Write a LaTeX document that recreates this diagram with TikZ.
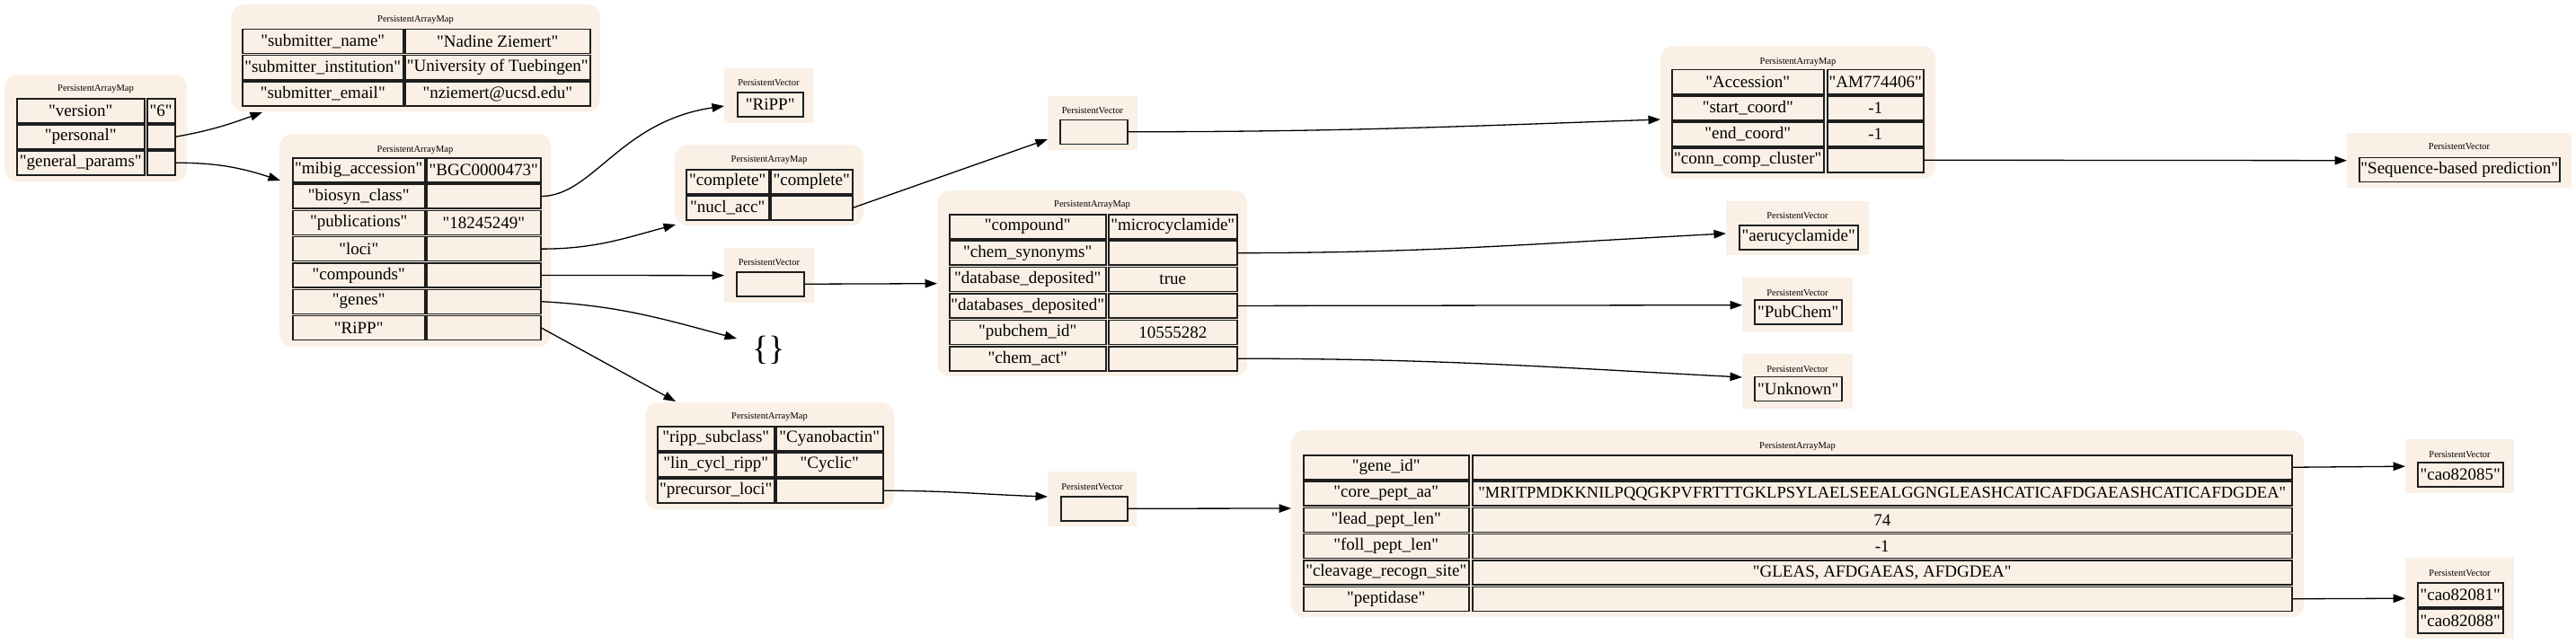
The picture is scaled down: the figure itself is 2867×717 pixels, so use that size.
\documentclass[tikz,border=0pt]{standalone}
\usepackage{fontspec}
\setmainfont{Liberation Serif}
\usetikzlibrary{arrows.meta}
\definecolor{linen}{RGB}{250,240,230}
\definecolor{cellline}{RGB}{30,30,30}
% raw fonts without TeX ligature mapping, so that " stays a straight quote
\font\cellraw="Liberation Serif" at 19pt
\font\seqraw="Liberation Serif" at 18.5pt
\newcommand\cellfont{\cellraw}
\newcommand\ttlfont{\fontsize{10.5}{12}\selectfont}
\tikzset{
  mapbg/.style={fill=linen, draw=none, rounded corners=14pt, anchor=north west, inner sep=0pt},
  vecbg/.style={fill=linen, draw=none, anchor=north west, inner sep=0pt},
  cell/.style={fill=linen, draw=cellline, line width=1.5pt, anchor=north west, inner sep=0pt, font=\cellfont},
  ttl/.style={font=\ttlfont, inner sep=0pt},
  edge/.style={line width=1.3pt, -{Triangle[length=13.5pt,width=9.5pt]}},
}
% name, y, kx, kw, vx, vw, key, value
\newcommand\kv[8]{%
  \node[cell, minimum width=#4, minimum height=27] (#1k) at (#3,#2) {#7};
  \node[cell, minimum width=#6, minimum height=27] (#1v) at (#5,#2) {#8};}
\begin{document}
\begin{tikzpicture}[x=1pt,y=-1pt]
\useasboundingbox (0,0) rectangle (2867,717);

% root map
\node[mapbg, minimum width=203, minimum height=119] (rootbg) at (5,83) {};
\node[ttl] (rootT) at (106.5,99) {PersistentArrayMap};
\kv{rootA}{109}{18}{142}{163}{31}{"version"}{"6"}
\kv{rootB}{138}{18}{142}{163}{31}{"personal"}{}
\kv{rootC}{167}{18}{142}{163}{31}{"general\_params"}{}

% personal map
\node[mapbg, minimum width=411, minimum height=119] (persbg) at (257,5) {};
\node[ttl] (persT) at (462.5,22) {PersistentArrayMap};
\kv{persA}{32}{269}{179}{450}{206}{"submitter\_name"}{"Nadine Ziemert"}
\kv{persB}{61}{269}{179}{450}{206}{"submitter\_institution"}{"University of Tuebingen"}
\kv{persC}{90}{269}{179}{450}{206}{"submitter\_email"}{"nziemert@ucsd.edu"}

% general params map
\node[mapbg, minimum width=302, minimum height=237] (genbg) at (311,149) {};
\node[ttl] (genT) at (462,167) {PersistentArrayMap};
\kv{genA}{175}{325}{147}{474}{127}{"mibig\_accession"}{"BGC0000473"}
\kv{genB}{204.3}{325}{147}{474}{127}{"biosyn\_class"}{}
\kv{genC}{233.6}{325}{147}{474}{127}{"publications"}{"18245249"}
\kv{genD}{262.9}{325}{147}{474}{127}{"loci"}{}
\kv{genE}{292.2}{325}{147}{474}{127}{"compounds"}{}
\kv{genF}{321.5}{325}{147}{474}{127}{"genes"}{}
\kv{genG}{350.8}{325}{147}{474}{127}{"RiPP"}{}

% biosyn_class vector
\node[vecbg, minimum width=99, minimum height=61] (rvecbg) at (806,76) {};
\node[ttl] (rvecT) at (855.5,92) {PersistentVector};
\node[cell, minimum width=73, minimum height=27] (rvec) at (820,102) {"RiPP"};

% loci map
\node[mapbg, minimum width=210, minimum height=90] (locbg) at (751,161) {};
\node[ttl] (locT) at (856,178) {PersistentArrayMap};
\kv{locA}{188}{763}{92}{857}{91}{"complete"}{"complete"}
\kv{locB}{217}{763}{92}{857}{91}{"nucl\_acc"}{}

% compounds vector
\node[vecbg, minimum width=100, minimum height=61] (cvecbg) at (806,276) {};
\node[ttl] (cvecT) at (856,292) {PersistentVector};
\node[cell, minimum width=75, minimum height=27] (cvec) at (819,302) {};

% genes (empty map)
\node[inner sep=0pt, font=\fontsize{38}{40}\selectfont] (braces) at (855.5,390) {\{\}};

% RiPP map
\node[mapbg, minimum width=277, minimum height=119] (ripbg) at (718,448) {};
\node[ttl] (ripT) at (856.5,464) {PersistentArrayMap};
\kv{ripA}{474}{731}{130}{863}{119}{"ripp\_subclass"}{"Cyanobactin"}
\kv{ripB}{503}{731}{130}{863}{119}{"lin\_cycl\_ripp"}{"Cyclic"}
\kv{ripC}{532}{731}{130}{863}{119}{"precursor\_loci"}{}

% nucl_acc vector
\node[vecbg, minimum width=100, minimum height=60] (nvecbg) at (1166,107) {};
\node[ttl] (nvecT) at (1216,123) {PersistentVector};
\node[cell, minimum width=75, minimum height=27] (nvec) at (1179,132.5) {};

% compound map
\node[mapbg, minimum width=345, minimum height=207] (cmpbg) at (1043,212) {};
\node[ttl] (cmpT) at (1215.5,228) {PersistentArrayMap};
\kv{cmpA}{238}{1056}{174}{1233}{143}{"compound"}{"microcyclamide"}
\kv{cmpB}{267.4}{1056}{174}{1233}{143}{"chem\_synonyms"}{}
\kv{cmpC}{296.8}{1056}{174}{1233}{143}{"database\_deposited"}{true}
\kv{cmpD}{326.2}{1056}{174}{1233}{143}{"databases\_deposited"}{}
\kv{cmpE}{355.6}{1056}{174}{1233}{143}{"pubchem\_id"}{10555282}
\kv{cmpF}{385}{1056}{174}{1233}{143}{"chem\_act"}{}

% precursor vector
\node[vecbg, minimum width=99, minimum height=61] (pvecbg) at (1166,525) {};
\node[ttl] (pvecT) at (1215.5,542) {PersistentVector};
\node[cell, minimum width=74, minimum height=27] (pvec) at (1180,552) {};

% accession map
\node[mapbg, minimum width=306, minimum height=148] (accbg) at (1848,51) {};
\node[ttl] (accT) at (2001,69) {PersistentArrayMap};
\kv{accA}{77}{1860}{169}{2033}{107}{"Accession"}{"AM774406"}
\kv{accB}{106}{1860}{169}{2033}{107}{"start\_coord"}{-1}
\kv{accC}{135}{1860}{169}{2033}{107}{"end\_coord"}{-1}
\kv{accD}{164}{1860}{169}{2033}{107}{"conn\_comp\_cluster"}{}

% sequence vector
\node[vecbg, minimum width=250, minimum height=61] (seqbg) at (2612,148) {};
\node[ttl] (seqT) at (2737,163) {PersistentVector};
\node[cell, minimum width=223, minimum height=27] (seq) at (2625,174.5) {"Sequence-based prediction"};

% synonyms vector
\node[vecbg, minimum width=159, minimum height=60] (aerbg) at (1921,224) {};
\node[ttl] (aerT) at (2000.5,240) {PersistentVector};
\node[cell, minimum width=132, minimum height=27] (aer) at (1935,250) {"aerucyclamide"};

% databases vector
\node[vecbg, minimum width=123, minimum height=61] (pubbg) at (1939,309) {};
\node[ttl] (pubT) at (2000.5,326) {PersistentVector};
\node[cell, minimum width=97, minimum height=27] (pub) at (1952,333) {"PubChem"};

% chem_act vector
\node[vecbg, minimum width=123, minimum height=61] (unkbg) at (1939,394) {};
\node[ttl] (unkT) at (2000.5,411) {PersistentVector};
\node[cell, minimum width=97, minimum height=27] (unk) at (1952,418.5) {"Unknown"};

% gene map
\node[mapbg, minimum width=1127, minimum height=208] (genebg) at (1437,479) {};
\node[ttl] (geneT) at (2000.5,497) {PersistentArrayMap};
\kv{geneA}{506}{1450}{184}{1638}{912}{"gene\_id"}{}
\kv{geneB}{535.3}{1450}{184}{1638}{912}{"core\_pept\_aa"}{\seqraw"MRITPMDKKNILPQQGKPVFRTTTGKLPSYLAELSEEALGGNGLEASHCATICAFDGAEASHCATICAFDGDEA"}
\kv{geneC}{564.6}{1450}{184}{1638}{912}{"lead\_pept\_len"}{74}
\kv{geneD}{593.9}{1450}{184}{1638}{912}{"foll\_pept\_len"}{-1}
\kv{geneE}{623.2}{1450}{184}{1638}{912}{"cleavage\_recogn\_site"}{"GLEAS, AFDGAEAS, AFDGDEA"}
\kv{geneF}{652.5}{1450}{184}{1638}{912}{"peptidase"}{}

% gene_id vector
\node[vecbg, minimum width=121, minimum height=60] (c85bg) at (2677,489) {};
\node[ttl] (c85T) at (2737.5,506) {PersistentVector};
\node[cell, minimum width=95, minimum height=27] (c85) at (2690,514) {"cao82085"};

% peptidase vector
\node[vecbg, minimum width=121, minimum height=90] (c81bg) at (2677,621) {};
\node[ttl] (c81T) at (2737.5,638) {PersistentVector};
\node[cell, minimum width=95, minimum height=27] (c81) at (2690,648) {"cao82081"};
\node[cell, minimum width=95, minimum height=27] (c88) at (2690,677) {"cao82088"};

% arrow tips
\coordinate (tPers) at (292,125);
\coordinate (tGen) at (312,201);
\coordinate (tRippV) at (806,118);
\coordinate (tLoc) at (752,250);
\coordinate (tBrace) at (820,377);
\coordinate (tRipp) at (752,447);
\coordinate (tNuclV) at (1166,155);
\coordinate (tAcc) at (1848,133);
\coordinate (tAeru) at (1921,260);
\coordinate (tUnk) at (1939,420);
\coordinate (tPrec) at (1166,553);
\coordinate (tGene) at (1437,566);

% edges
\draw[edge] (rootBv.east) to[out=10,in=200] (tPers);
\draw[edge] (rootCv.east) to[out=0,in=162] (tGen);
\draw[edge] (genBv.east) .. controls (660,218) and (690,135) .. (tRippV);
\draw[edge] (genDv.east) to[out=0,in=195] (tLoc);
\draw[edge] (genEv.east) -- (cvecbg.west);
\draw[edge] (genFv.east) to[out=-3,in=165] (tBrace);
\draw[edge] (genGv.east) -- (tRipp);
\draw[edge] (locBv.east) -- (tNuclV);
\draw[edge] (cvec.east) -- (cmpbg.west);
\draw[edge] (nvec.east) to[out=0,in=182] (tAcc);
\draw[edge] (accDv.east) -- (seqbg.west);
\draw[edge] (cmpBv.east) to[out=0,in=183] (tAeru);
\draw[edge] (cmpDv.east) -- (pubbg.west);
\draw[edge] (cmpFv.east) to[out=0,in=177] (tUnk);
\draw[edge] (ripCv.east) to[out=0,in=178] (tPrec);
\draw[edge] (pvec.east) -- (tGene);
\draw[edge] (geneAv.east) -- (c85bg.west);
\draw[edge] (geneFv.east) -- (c81bg.west);
\end{tikzpicture}
\end{document}
